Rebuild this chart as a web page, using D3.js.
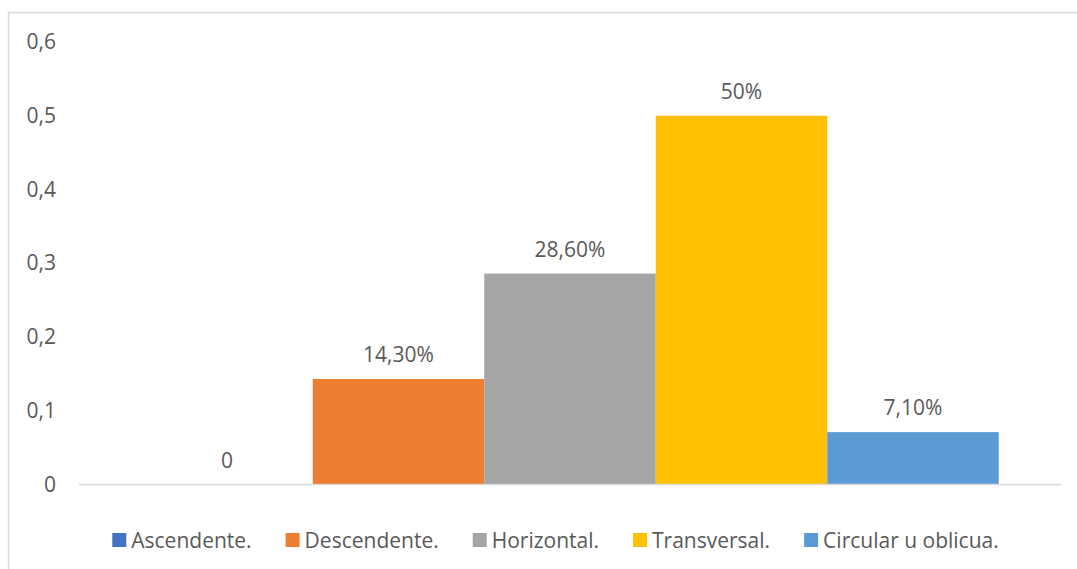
<!DOCTYPE html>
<html>
<head>
<meta charset="utf-8">
<script src="https://cdn.jsdelivr.net/npm/d3@7"></script>
<style>
  html, body { margin: 0; padding: 0; background: #ffffff; }
  svg { display: block; font-family: "Open Sans", "Liberation Sans", sans-serif; }
</style>
</head>
<body>
<svg id="chart" width="1077" height="569"></svg>
<script>
// Series shown as side-by-side columns of a single category
const seriesNames = ["Ascendente.", "Descendente.", "Horizontal.", "Transversal.", "Circular u oblicua."];
const seriesValues = [0, 0.143, 0.286, 0.5, 0.071];
const valueLabels = ["0", "14,30%", "28,60%", "50%", "7,10%"];
const seriesColors = ["#4472C4", "#ED7D31", "#A5A5A5", "#FFC000", "#5B9BD5"];
const yTicks = [0, 0.1, 0.2, 0.3, 0.4, 0.5, 0.6];

const svg = d3.select("#chart");
const textColor = "#595959";
const fontSize = 21;

// Chart frame (left and top edges visible)
svg.append("rect")
  .attr("x", 8.5).attr("y", 12.5)
  .attr("width", 1100).attr("height", 600)
  .attr("fill", "#ffffff")
  .attr("stroke", "#d9d9d9")
  .attr("stroke-width", 1.5);

const plot = { left: 79, right: 1061, top: 42, bottom: 484.5 };

const y = d3.scaleLinear().domain([0, 0.6]).range([plot.bottom, plot.top]);

const x = d3.scaleBand()
  .domain(seriesNames)
  .range([plot.left, plot.right])
  .paddingInner(0)
  .paddingOuter(0.363);

// Y axis labels with comma as decimal separator
const esLocale = d3.formatLocale({ decimal: ",", thousands: ".", grouping: [3], currency: ["", " €"] });
const tickFmt = esLocale.format(".1~f");

const yAxis = d3.axisLeft(y)
  .tickValues(yTicks)
  .tickSize(0)
  .tickPadding(0)
  .tickFormat(tickFmt);

const yg = svg.append("g")
  .attr("transform", `translate(56,0)`)
  .call(yAxis);
yg.select(".domain").remove();
yg.selectAll("text")
  .attr("fill", textColor)
  .style("font-size", fontSize + "px")
  .style("font-family", "'Open Sans', sans-serif");

// Columns
const rows = seriesNames.map((name, i) => ({ name, value: seriesValues[i], label: valueLabels[i], color: seriesColors[i] }));

svg.append("g").selectAll("rect")
  .data(rows)
  .join("rect")
  .attr("x", d => x(d.name))
  .attr("width", x.bandwidth())
  .attr("y", d => y(d.value))
  .attr("height", d => y(0) - y(d.value))
  .attr("fill", d => d.color);

// Category axis baseline
svg.append("line")
  .attr("x1", plot.left).attr("x2", plot.right)
  .attr("y1", y(0)).attr("y2", y(0))
  .attr("stroke", "#d9d9d9")
  .attr("stroke-width", 1.5);

// Value labels above each column
svg.append("g").selectAll("text")
  .data(rows)
  .join("text")
  .attr("x", d => x(d.name) + x.bandwidth() / 2)
  .attr("y", d => y(d.value) - 17)
  .attr("text-anchor", "middle")
  .attr("fill", textColor)
  .style("font-size", fontSize + "px")
  .text(d => d.label);

// Legend, centred below the plot
const legend = svg.append("g");
const items = legend.selectAll("g")
  .data(rows)
  .join("g");
items.append("rect")
  .attr("width", 14).attr("height", 14)
  .attr("y", 533)
  .attr("fill", d => d.color);
items.append("text")
  .attr("x", 19)
  .attr("y", 547.5)
  .attr("fill", textColor)
  .style("font-size", fontSize + "px")
  .text(d => d.name);

const gap = 34;
const widths = [];
items.each(function () {
  widths.push(14 + 5 + this.querySelector("text").getComputedTextLength());
});
const total = d3.sum(widths) + gap * (widths.length - 1);
let cursor = 555.5 - total / 2;
items.attr("transform", (d, i) => {
  const t = `translate(${cursor},0)`;
  cursor += widths[i] + gap;
  return t;
});
</script>
</body>
</html>
